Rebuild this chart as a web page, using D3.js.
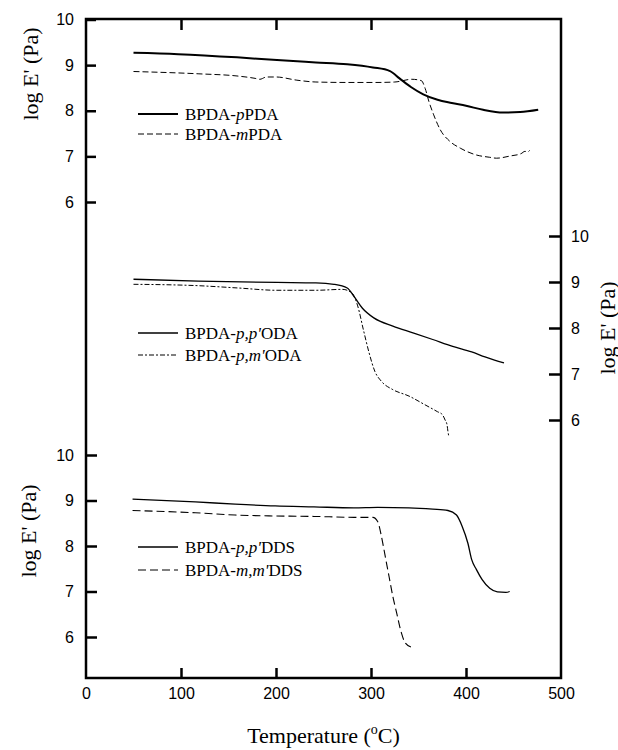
<!DOCTYPE html>
<html>
<head>
<meta charset="utf-8">
<script src="https://cdn.jsdelivr.net/npm/d3@7"></script>
<style>
  body { margin: 0; background: #fff; }
  .tick text { font-family: "Liberation Sans", Arial, sans-serif; font-size: 16px; fill: #000; }
  .serif { font-family: "Liberation Serif", "Times New Roman", serif; fill: #000; }
</style>
</head>
<body>
<svg id="chart" width="618" height="750"></svg>
<script>
// temperature (°C) vs log E' (Pa)
const pPDA = [[50,9.27],[97,9.24],[159,9.17],[201,9.11],[242,9.06],[275,9.02],[302,8.95],[320,8.87],[330,8.71],[342,8.52],[355,8.36],[370,8.24],[385,8.17],[400,8.11],[418,8.02],[439,7.96],[457,7.97],[476,8.02]];
const mPDA = [[50,8.86],[118,8.81],[160,8.76],[178,8.71],[183,8.69],[190,8.74],[200,8.74],[222,8.67],[242,8.63],[275,8.62],[305,8.62],[325,8.63],[343,8.69],[353,8.66],[357,8.49],[361,8.2],[366,7.91],[373,7.58],[383,7.33],[394,7.18],[411,7.03],[425,6.98],[432,6.96],[447,7.01],[458,7.06],[462,7.11],[465,7.1],[467,7.13]];
const ppODA = [[50,9.06],[118,9.02],[201,8.99],[242,8.98],[261,8.95],[275,8.87],[283,8.66],[291,8.43],[303,8.22],[323,8.04],[345,7.89],[365,7.75],[386,7.6],[406,7.48],[420,7.37],[430,7.3],[440,7.24]];
const pmODA = [[50,8.95],[118,8.92],[160,8.87],[201,8.82],[242,8.82],[270,8.84],[280,8.76],[286,8.48],[292,7.96],[298,7.46],[304,7.06],[311,6.84],[323,6.66],[340,6.52],[356,6.34],[370,6.18],[375,6.12],[378,6.0],[380,5.9],[381,5.75],[382,5.63]];
const ppDDS = [[49,9.03],[115,8.97],[157,8.92],[199,8.88],[240,8.86],[282,8.84],[307,8.85],[340,8.84],[365,8.81],[381,8.78],[390,8.68],[396,8.43],[402,8.06],[406,7.7],[411,7.48],[417,7.26],[425,7.07],[433,6.99],[442,6.98],[446,7.0]];
const mmDDS = [[49,8.78],[115,8.73],[157,8.68],[199,8.66],[240,8.65],[282,8.63],[302,8.63],[307,8.54],[311,8.21],[315,7.77],[319,7.33],[323,6.89],[327,6.53],[332,6.09],[336,5.87],[342,5.78]];

const xTicks = [0, 100, 200, 300, 400, 500];
const yTicks = [6, 7, 8, 9, 10];

const svg = d3.select("#chart");
const plotL = 86, plotR = 561, plotT = 19, plotB = 678;

const x = d3.scaleLinear().domain([0, 500]).range([plotL, plotR]);
const yTop = d3.scaleLinear().domain([6, 10]).range([202, 19.5]);
const yMid = d3.scaleLinear().domain([6, 10]).range([420, 236]);
const yBot = d3.scaleLinear().domain([6, 10]).range([637, 455]);
const fmt = d3.format("d");

// frame
svg.append("rect")
  .attr("x", plotL).attr("y", plotT)
  .attr("width", plotR - plotL).attr("height", plotB - plotT)
  .attr("fill", "none").attr("stroke", "#000").attr("stroke-width", 2.5);

function styleAxis(g, w) {
  g.select(".domain").remove();
  g.selectAll(".tick line").attr("stroke", "#000").attr("stroke-width", w);
}

// x axis: labels at bottom, ticks inward top and bottom
svg.append("g")
  .attr("transform", `translate(0,${plotB})`)
  .call(d3.axisBottom(x).tickValues(xTicks).tickFormat(fmt).tickSize(-10).tickPadding(10))
  .call(g => styleAxis(g, 2.5))
  .call(g => g.selectAll(".tick line").filter(d => d === 0 || d === 500).remove());

svg.append("g")
  .attr("transform", `translate(0,${plotT})`)
  .call(d3.axisTop(x).tickValues([100, 200, 300, 400]).tickSize(-11).tickFormat(""))
  .call(g => styleAxis(g, 2.5));

// left axes
svg.append("g")
  .attr("transform", `translate(${plotL},0)`)
  .call(d3.axisLeft(yTop).tickValues(yTicks).tickFormat(fmt).tickSize(-10).tickPadding(12))
  .call(g => styleAxis(g, 2.5));

svg.append("g")
  .attr("transform", `translate(${plotL},0)`)
  .call(d3.axisLeft(yBot).tickValues(yTicks).tickFormat(fmt).tickSize(-11).tickPadding(12))
  .call(g => styleAxis(g, 2.5));

// right axis for the middle pair
svg.append("g")
  .attr("transform", `translate(${plotR},0)`)
  .call(d3.axisRight(yMid).tickValues(yTicks).tickFormat(fmt).tickSize(-12).tickPadding(10))
  .call(g => styleAxis(g, 2.5));

// axis titles
function logLabel(cx, cy) {
  svg.append("text").attr("class", "serif")
    .attr("transform", `translate(${cx},${cy}) rotate(-90)`)
    .attr("text-anchor", "middle").attr("dominant-baseline", "central")
    .attr("font-size", 22)
    .text("log E' (Pa)");
}
logLabel(30, 74);
logLabel(28, 531);
logLabel(607, 328);

const xt = svg.append("text").attr("class", "serif")
  .attr("x", (plotL + plotR) / 2).attr("y", 743)
  .attr("text-anchor", "middle").attr("font-size", 22);
xt.append("tspan").text("Temperature (");
xt.append("tspan").attr("font-size", 14).attr("dy", -9).text("o");
xt.append("tspan").attr("dy", 9).text("C)");

// curves
const series = [
  { data: pPDA, y: yTop, w: 2, dash: null },
  { data: mPDA, y: yTop, w: 1, dash: "6,3" },
  { data: ppODA, y: yMid, w: 1.3, dash: null },
  { data: pmODA, y: yMid, w: 1, dash: "5,2,2,2" },
  { data: ppDDS, y: yBot, w: 1.3, dash: null },
  { data: mmDDS, y: yBot, w: 1.1, dash: "8,4" }
];

series.forEach(s => {
  const line = d3.line()
    .x(d => x(d[0]))
    .y(d => s.y(d[1]))
    .curve(d3.curveMonotoneX);
  svg.append("path")
    .datum(s.data)
    .attr("d", line)
    .attr("fill", "none")
    .attr("stroke", "#000")
    .attr("stroke-width", s.w)
    .attr("stroke-dasharray", s.dash);
});

// legends: [prefix, italic part, suffix]
const legends = [
  { ly: 114, parts: ["BPDA-", "p", "PDA"], s: series[0] },
  { ly: 134, parts: ["BPDA-", "m", "PDA"], s: series[1] },
  { ly: 333, parts: ["BPDA-", "p,p'", "ODA"], s: series[2] },
  { ly: 355, parts: ["BPDA-", "p,m'", "ODA"], s: series[3] },
  { ly: 547, parts: ["BPDA-", "p,p'", "DDS"], s: series[4] },
  { ly: 570, parts: ["BPDA-", "m,m'", "DDS"], s: series[5] }
];

legends.forEach(l => {
  svg.append("line")
    .attr("x1", 138).attr("x2", 178)
    .attr("y1", l.ly).attr("y2", l.ly)
    .attr("stroke", "#000")
    .attr("stroke-width", l.s.w)
    .attr("stroke-dasharray", l.s.dash);
  const t = svg.append("text").attr("class", "serif")
    .attr("x", 185).attr("y", l.ly + 6)
    .attr("font-size", 17);
  t.append("tspan").text(l.parts[0]);
  t.append("tspan").attr("font-style", "italic").text(l.parts[1]);
  t.append("tspan").text(l.parts[2]);
});
</script>
</body>
</html>
